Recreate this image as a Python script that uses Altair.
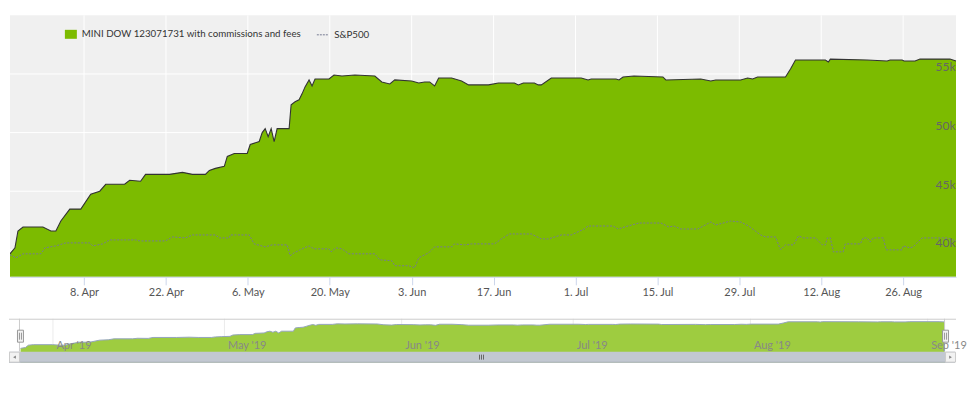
import altair as alt
import pandas as pd

START = "2019-03-26"
MAIN_NAME = "MINI DOW 123071731 with commissions and fees"
SPX_NAME = "S&P500"

# Main series: days after 2019-03-26 00:00, account value ($)
main_days = [0.34, 1.19, 1.70, 2.56, 5.96, 7.33, 8.18, 9.03, 10.56, 12.44, 14.14, 15.68, 16.70, 19.93,
             20.79, 22.66, 23.51, 27.60, 29.82, 31.52, 33.74, 34.42, 35.44, 36.97, 37.48, 38.68, 40.89,
             41.40, 42.94, 43.45, 43.96, 44.47, 44.98, 45.49, 46.00, 48.05, 48.39, 49.07, 49.75, 50.26,
             50.77, 51.46, 51.97, 52.48, 54.86, 55.72, 57.08, 59.29, 62.70, 63.89, 65.26, 66.11, 69.00,
             70.20, 71.22, 72.07, 72.92, 73.61, 75.82, 77.53, 78.72, 82.13, 83.83, 86.55, 87.23, 88.09,
             89.96, 90.64, 91.16, 92.86, 97.97, 99.16, 99.67, 103.93, 104.44, 105.12, 106.99, 111.94,
             112.45, 118.41, 120.12, 120.97, 125.23, 126.42, 127.27, 128.12, 132.89, 133.75, 134.60,
             139.71, 140.22, 140.56, 146.86, 150.27, 150.78, 152.83, 153.17, 155.04, 155.89, 161.0, 162.04]
main_vals = [39660, 40169, 41609, 41948, 41948, 41609, 41609, 42457, 43474, 43474, 44745, 45000, 45593,
             45593, 45932, 45847, 46440, 46440, 46610, 46440, 46440, 46779, 46949, 47118, 47966, 48220,
             48220, 48983, 49237, 50000, 50339, 49661, 50339, 49237, 50339, 50339, 52373, 52627, 52797,
             53305, 53898, 54492, 53983, 54576, 54576, 54915, 54831, 54915, 54831, 54322, 54153, 54492,
             54407, 54237, 54322, 54322, 53983, 54661, 54661, 54407, 54068, 54068, 54237, 54237, 54068,
             54237, 54237, 54068, 54068, 54661, 54661, 54492, 54576, 54576, 54492, 54746, 54831, 54746,
             54492, 54576, 54407, 54492, 54492, 54661, 54576, 54746, 54746, 55424, 56187, 56187, 56017,
             56271, 56187, 56102, 56187, 56187, 56102, 56102, 56271, 56271, 56102]

# S&P500 benchmark (normalised to the account's starting value)
spx_days = [0.34, 1.36, 2.56, 5.62, 6.30, 8.18, 9.88, 13.97, 14.48, 16.19, 17.38, 21.81, 22.49, 26.92,
            28.11, 30.33, 31.52, 35.44, 36.12, 37.82, 37.99, 41.23, 42.08, 43.96, 45.15, 47.71, 48.22,
            48.90, 50.26, 51.46, 52.31, 54.86, 55.21, 56.06, 57.08, 58.27, 62.70, 63.55, 65.60, 66.11,
            68.49, 69.51, 70.20, 71.90, 72.92, 75.82, 76.33, 78.03, 79.23, 83.15, 84.34, 85.70, 89.45,
            91.16, 92.36, 94.57, 96.28, 98.49, 99.16, 103.42, 104.27, 105.98, 107.85, 111.60, 112.96,
            113.81, 115.0, 117.9, 120.12, 120.97, 123.52, 125.23, 126.59, 128.64, 129.49, 131.19, 132.04,
            132.89, 134.26, 135.12, 135.97, 138.01, 139.2, 139.71, 140.05, 140.56, 141.08, 142.78, 143.12,
            145.68, 146.19, 146.86, 147.38, 147.89, 149.6, 150.1, 152.83, 153.0, 154.19, 154.7, 156.24,
            160.5, 162.04]
spx_vals = [39580, 39321, 39660, 39660, 40169, 40338, 40593, 40593, 40338, 40508, 40847, 40847, 40762,
            40762, 41101, 41016, 41271, 41271, 41016, 41016, 41271, 41271, 40508, 40254, 40423, 40423,
            39491, 39745, 40085, 40338, 40085, 40085, 39830, 40169, 40085, 39661, 39661, 39152, 39067,
            38643, 38643, 38474, 39321, 39745, 40254, 40254, 40508, 40423, 40508, 40508, 40932, 41356,
            41356, 40932, 40932, 41271, 41271, 41779, 42034, 42034, 41779, 42034, 42288, 42288, 41949,
            42034, 41779, 41779, 42373, 42119, 42458, 42373, 42034, 41271, 41101, 41101, 40000, 40423,
            40423, 41186, 41016, 41016, 40423, 40423, 41016, 41016, 39830, 39830, 40508, 40508, 41016,
            41016, 40678, 41016, 41016, 40000, 40000, 40339, 40169, 40254, 41016, 41016, 40762]

x_tick_dates = ["2019-04-08", "2019-04-22", "2019-05-06", "2019-05-20", "2019-06-03", "2019-06-17",
                "2019-07-01", "2019-07-15", "2019-07-29", "2019-08-12", "2019-08-26"]
y_ticks = [40000, 45000, 50000, 55000]
nav_month_dates = ["2019-04-01", "2019-05-01", "2019-06-01", "2019-07-01", "2019-08-01", "2019-09-01"]

GREEN = "#7cbb00"
NAV_GREEN = "#9ecc40"
SPX_COLOR = "#767b93"
SPX_LEGEND = "#9aa0bf"


def to_dt(days):
    return pd.Timestamp(START) + pd.to_timedelta(days, unit="D")


def dt_obj(s):
    t = pd.Timestamp(s)
    return alt.DateTime(year=t.year, month=t.month, date=t.day, hours=t.hour, minutes=t.minute)


main_df = pd.DataFrame({"date": to_dt(main_days), "value": main_vals, "series": MAIN_NAME})
spx_df = pd.DataFrame({"date": to_dt(spx_days), "value": spx_vals, "series": SPX_NAME})
xgrid_df = pd.DataFrame({"date": pd.to_datetime(x_tick_dates)})
ygrid_df = pd.DataFrame({"value": y_ticks})
navgrid_df = pd.DataFrame({"date": pd.to_datetime(nav_month_dates)})
one = pd.DataFrame({"k": [0]})

x_domain = [dt_obj("2019-03-26 08:10"), dt_obj("2019-09-04 01:00")]

x_main = alt.X("date:T", title=None, scale=alt.Scale(domain=x_domain),
               axis=alt.Axis(values=[dt_obj(d) for d in x_tick_dates], format="%-d. %b", grid=False,
                             domainColor="#ccd6eb", tickColor="#ccd6eb", tickSize=8, labelPadding=2,
                             labelColor="#555555", labelFontSize=11, labelFont="Lato",
                             labelFlush=False, labelOverlap=False, zindex=1))
y_main = alt.Y("value:Q", title=None,
               scale=alt.Scale(domain=[37700, 60000], nice=False, zero=False),
               axis=alt.Axis(orient="right", values=y_ticks, format="~s", grid=False, ticks=False,
                             domain=False, labelAlign="right", labelBaseline="bottom", labelPadding=-1,
                             labelColor="#666666", labelFontSize=12, labelFont="Lato", zindex=1))

xgrid = alt.Chart(xgrid_df).mark_rule(color="white", strokeWidth=1).encode(x=x_main)
ygrid = alt.Chart(ygrid_df).mark_rule(color="white", strokeWidth=1).encode(y=y_main)

area = alt.Chart(main_df).mark_area(clip=True, opacity=1).encode(
    x=x_main, y=y_main,
    fill=alt.Fill("series:N", scale=alt.Scale(domain=[MAIN_NAME], range=[GREEN]),
                  legend=alt.Legend(title=None, orient="none", legendX=55, legendY=13,
                                    symbolType="M-1,-0.75H1V0.75H-1Z", symbolSize=144,
                                    symbolStrokeWidth=0, labelFont="Lato", labelFontSize=9.75,
                                    labelColor="#333333", labelLimit=400, labelOffset=5, padding=0)))
outline = alt.Chart(main_df).mark_line(color="#333333", strokeWidth=1.1, clip=True).encode(x=x_main, y=y_main)
spx = alt.Chart(spx_df).mark_line(strokeDash=[2, 1.5], strokeWidth=1, clip=True).encode(
    x=x_main, y=y_main,
    stroke=alt.Stroke("series:N", scale=alt.Scale(domain=[SPX_NAME], range=[SPX_COLOR]),
                      legend=alt.Legend(title=None, orient="none", legendX=307, legendY=13,
                                        symbolType="stroke", symbolSize=144, symbolDash=[2, 1],
                                        symbolStrokeWidth=1, symbolStrokeColor=SPX_LEGEND,
                                        symbolOpacity=1, labelFont="Lato", labelFontSize=9.75,
                                        labelColor="#333333", labelLimit=200, labelOffset=5, padding=0)))

main = alt.layer(xgrid, ygrid, area, outline, spx).properties(
    width=948, height=262, view=alt.ViewBackground(fill="#f0f0f0", stroke=None))

# ---- navigator ----
x_nav = alt.X("date:T", title=None, scale=alt.Scale(domain=x_domain, range=[10.6, 937]),
              axis=alt.Axis(values=[dt_obj(d) for d in nav_month_dates], format="%b '%y", grid=False,
                            ticks=False, tickSize=0, domain=False, labelAlign="left",
                            labelBaseline="alphabetic", labelPadding=-14, labelOffset=3,
                            labelColor="#888888", labelFontSize=11, labelFont="Lato",
                            labelFlush=False, labelOverlap=False, zindex=1))
y_nav = alt.Y("value:Q", axis=None,
              scale=alt.Scale(domain=[37600, 58100], range=[33, 0], nice=False, zero=False))

nav_grid = alt.Chart(navgrid_df).mark_rule(color="#ebebeb").encode(x=x_nav)
nav_area = alt.Chart(main_df).mark_area(fill=NAV_GREEN, opacity=1, fillOpacity=1,
                                        line={"color": "#95a5bd", "strokeWidth": 1},
                                        clip=True).encode(x=x_nav, y=y_nav)

deco = []
deco.append(alt.Chart(one).mark_rule(color="#cccccc").encode(
    x=alt.value(-1), x2=alt.value(948), y=alt.value(0.5)))
for xv in (9.5, 936.5):
    deco.append(alt.Chart(one).mark_rule(color="#cccccc").encode(
        x=alt.value(xv), y=alt.value(0), y2=alt.value(33)))
# scrollbar track
deco.append(alt.Chart(one).mark_rect(color="#c2c8d1").encode(
    x=alt.value(-1), x2=alt.value(947), y=alt.value(33), y2=alt.value(44)))
deco.append(alt.Chart(one).mark_rule(color="#aeb4bd").encode(
    x=alt.value(-1), x2=alt.value(947), y=alt.value(43.5)))
# scrollbar buttons
for x0 in (-1, 937):
    deco.append(alt.Chart(one).mark_rect(color="#f2f2f2", stroke="#cccccc", strokeWidth=1).encode(
        x=alt.value(x0 + 0.5), x2=alt.value(x0 + 10.5), y=alt.value(33.5), y2=alt.value(43.5)))
deco.append(alt.Chart(one).mark_point(shape="triangle-left", filled=True, size=10, color="#555555").encode(
    x=alt.value(4.5), y=alt.value(38.5)))
deco.append(alt.Chart(one).mark_point(shape="triangle-right", filled=True, size=10, color="#555555").encode(
    x=alt.value(942.5), y=alt.value(38.5)))
# rifles
for xv in (470.5, 472.5, 474.5):
    deco.append(alt.Chart(one).mark_rule(color="#666666").encode(
        x=alt.value(xv), y=alt.value(36), y2=alt.value(41)))
# handles
for hx in (7, 934):
    deco.append(alt.Chart(one).mark_rect(color="#f2f2f2", stroke="#999999", strokeWidth=1).encode(
        x=alt.value(hx + 0.5), x2=alt.value(hx + 6.5), y=alt.value(11.5), y2=alt.value(23.5)))
    for dx in (2.5, 4.5):
        deco.append(alt.Chart(one).mark_rule(color="#999999").encode(
            x=alt.value(hx + dx), y=alt.value(14), y2=alt.value(21)))

nav = alt.layer(nav_grid, nav_area, *deco).properties(
    width=948, height=44, view=alt.ViewBackground(fill="white", stroke=None))

chart = alt.vconcat(main, nav, spacing=20).properties(
    padding={"left": 0, "top": 6, "right": 0, "bottom": 0}
).resolve_scale(x="independent", y="independent").configure_view(stroke=None).configure(font="Lato")

chart.save("out.html", embed_options={"renderer": "svg", "actions": False})
